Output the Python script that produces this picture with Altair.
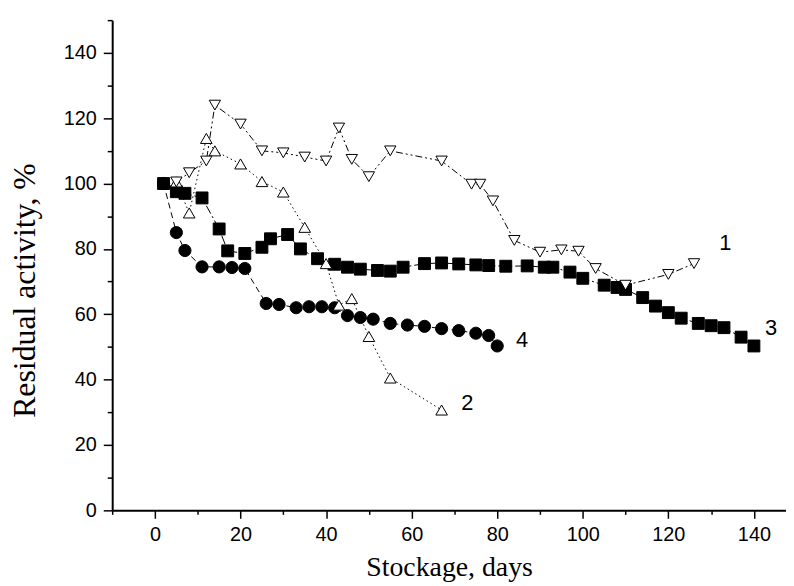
import altair as alt
import pandas as pd

# Series 1: open down-triangles
s1_x = [5, 8, 12, 14, 20, 25, 30, 35, 40, 43, 46, 50, 55, 67, 74, 76, 79, 84, 90, 95, 99, 103, 110, 120, 126]
s1_y = [100.5, 103.3, 106.9, 124, 118.2, 110, 109.4, 108.1, 106.9, 117, 107.4, 102.1, 110, 106.9, 99.8, 99.8, 94.7, 82.6, 79, 79.7, 79.3, 74, 68.9, 72.2, 75.5]

# Series 2: open up-triangles
s2_x = [5, 8, 12, 14, 20, 25, 30, 35, 40, 43, 46, 50, 55, 67]
s2_y = [100.5, 91, 113.8, 110, 106, 100.6, 97.4, 86.6, 75.5, 62.8, 64.8, 53.2, 40.5, 30.7]

# Series 3: filled squares
s3_x = [2, 5, 7, 11, 15, 17, 21, 25, 27, 31, 34, 38, 42, 45, 48, 52, 55, 58, 63, 67, 71, 75, 78, 82, 87, 91, 93,
        97, 100, 105, 108, 110, 114, 117, 120, 123, 127, 130, 133, 137, 140]
s3_y = [100, 97.5, 97, 95.6, 86.1, 79.4, 78.6, 80.5, 83.1, 84.4, 80, 77, 75.3, 74.4, 73.8, 73.4, 73.2, 74.4, 75.5,
        75.7, 75.4, 75.1, 74.9, 74.7, 74.8, 74.4, 74.4, 72.9, 71, 68.9, 68.2, 67.6, 65.1, 62.5, 60.5, 58.8, 57.2,
        56.5, 55.9, 53, 50.3]

# Series 4: filled circles
s4_x = [2, 5, 7, 11, 15, 18, 21, 26, 29, 33, 36, 39, 42, 45, 48, 51, 55, 59, 63, 67, 71, 75, 78, 80]
s4_y = [100, 85, 79.5, 74.5, 74.5, 74.3, 74, 63.3, 63, 62, 62.3, 62.3, 62, 59.6, 59, 58.5, 57.2, 56.7, 56.3, 55.6,
        55, 54.2, 53.5, 50.3]

series_names = ["4", "3", "2", "1"]

# Curve labels
lab_text = ["1", "2", "3", "4"]
lab_x = [133.3, 73, 144, 85.8]
lab_y = [81.7, 32.7, 55.7, 52.2]

x_ticks = list(range(-10, 141, 10))
y_ticks = list(range(0, 151, 10))

frames = []
for name, xs, ys in [("4", s4_x, s4_y), ("3", s3_x, s3_y), ("2", s2_x, s2_y), ("1", s1_x, s1_y)]:
    frames.append(pd.DataFrame({"x": xs, "y": ys, "s": name}))
df = pd.concat(frames, ignore_index=True)
df["order"] = range(len(df))

labels = pd.DataFrame({"t": lab_text, "x": lab_x, "y": lab_y})

xscale = alt.Scale(domain=[-10, 147.5], nice=False, zero=False)
yscale = alt.Scale(domain=[0, 150], nice=False, zero=False)

xaxis = alt.Axis(
    values=x_ticks,
    labelExpr="datum.value % 20 === 0 && datum.value >= 0 ? datum.label : ''",
    tickSize={"condition": {"test": "datum.value % 20 === 0", "value": 8}, "value": 4},
    labelOverlap=False, labelFlush=False, labelPadding=6,
    title="Stockage, days", titleY=58, titleBaseline="middle",
)
yaxis = alt.Axis(
    values=y_ticks,
    labelExpr="datum.value % 20 === 0 ? datum.label : ''",
    tickSize={"condition": {"test": "datum.value % 20 === 0", "value": 9}, "value": 5},
    labelOverlap=False, labelFlush=False, labelPadding=7,
    title="Residual activity, %", titleX=-88, titleY=272, titleBaseline="middle", titleAlign="center",
    titleFontSize=32,
)

x_enc = alt.X("x:Q", scale=xscale, axis=xaxis)
y_enc = alt.Y("y:Q", scale=yscale, axis=yaxis)

lines = alt.Chart(df).mark_line(color="black", strokeWidth=1).encode(
    x=x_enc, y=y_enc,
    detail="s:N",
    strokeDash=alt.StrokeDash("s:N", scale=alt.Scale(domain=series_names,
                                                      range=[[6, 4], [9, 3, 2, 3], [1.5, 3], [7, 3, 2, 3, 2, 3]]),
                              legend=None),
)

points = alt.Chart(df).mark_point(filled=True, stroke="black", strokeWidth=1, opacity=1).encode(
    x=x_enc, y=y_enc,
    shape=alt.Shape("s:N", scale=alt.Scale(domain=series_names,
                                           range=["circle", "square", "triangle-up", "triangle-down"]), legend=None),
    fill=alt.Fill("s:N", scale=alt.Scale(domain=series_names, range=["black", "black", "white", "white"]), legend=None),
    size=alt.Size("s:N", scale=alt.Scale(domain=series_names, range=[150, 130, 200, 200]), legend=None),
    order=alt.Order("order:Q"),
)

texts = alt.Chart(labels).mark_text(font="Liberation Sans", fontSize=22, color="black",
                                    align="center", baseline="middle").encode(
    x=alt.X("x:Q", scale=xscale, axis=xaxis),
    y=alt.Y("y:Q", scale=yscale, axis=yaxis),
    text="t:N",
)

chart = alt.layer(lines, points, texts).properties(
    width=679, height=494,
    autosize=alt.AutoSizeParams(type="none"),
    padding={"left": 105, "top": 10, "right": 0, "bottom": 74},
).configure_view(stroke=None).configure_axis(
    grid=False,
    domainColor="black", domainWidth=2,
    tickColor="black", tickWidth=1.5,
    labelColor="black", labelFont="Liberation Sans", labelFontSize=20,
    titleColor="black", titleFont="Liberation Serif", titleFontSize=28, titleFontWeight="normal",
)

chart.save("out.html", embed_options={"renderer": "svg", "actions": False})
